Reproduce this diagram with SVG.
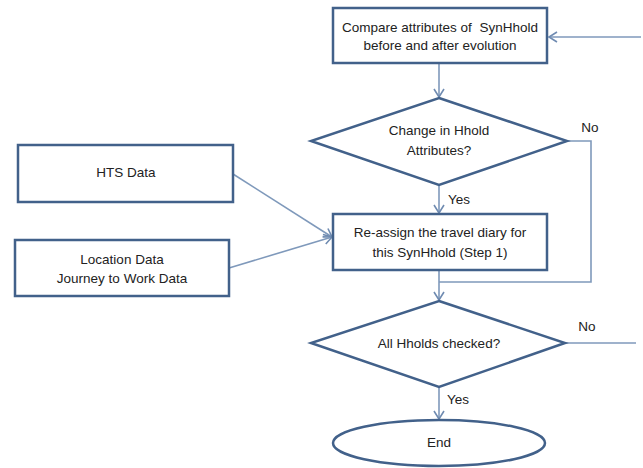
<svg xmlns="http://www.w3.org/2000/svg" width="643" height="468" viewBox="0 0 643 468">
<defs>
<marker id="arr" markerWidth="12" markerHeight="12" refX="9" refY="6" orient="auto" markerUnits="userSpaceOnUse">
<path d="M1,1 L9,6 L1,11" fill="none" stroke="#6f8bb1" stroke-width="1.6"/>
</marker>
</defs>
<style>
.box{fill:#fff;stroke:#42618a;stroke-width:2.5}
.con{fill:none;stroke:#7f99bb;stroke-width:1.6}
text{font-family:"Liberation Sans",Arial,sans-serif;font-size:13.5px;fill:#222;text-anchor:middle}
</style>
<rect width="643" height="468" fill="#fff"/>
<g id="connectors">
<line class="con" x1="641" y1="37" x2="549" y2="37" marker-end="url(#arr)"/>
<line class="con" x1="439" y1="63" x2="439" y2="97" marker-end="url(#arr)"/>
<line class="con" x1="439" y1="185" x2="439" y2="213" marker-end="url(#arr)"/>
<polyline class="con" points="567,141 591,141 591,282 439,282"/>
<line class="con" x1="439" y1="270" x2="439" y2="300" marker-end="url(#arr)"/>
<line class="con" x1="233" y1="174" x2="332" y2="237" marker-end="url(#arr)"/>
<line class="con" x1="229" y1="268" x2="332" y2="237" marker-end="url(#arr)"/>
<line class="con" x1="565" y1="343" x2="636" y2="343"/>
<line class="con" x1="439" y1="387" x2="439" y2="419" marker-end="url(#arr)"/>
<text x="590" y="132">No</text>
<text x="459" y="204">Yes</text>
<text x="587" y="331">No</text>
<text x="458" y="404">Yes</text>
</g>
<g id="compare">
<rect class="box" x="333" y="8" width="214" height="55"/>
<text x="440" y="32" xml:space="preserve">Compare attributes of  SynHhold</text>
<text x="440" y="50">before and after evolution</text>
</g>
<g id="change">
<polygon class="box" points="439,98 567,141 439,185 311,141"/>
<text x="439" y="135">Change in Hhold</text>
<text x="439" y="155">Attributes?</text>
</g>
<g id="hts">
<rect class="box" x="18" y="145" width="215" height="57"/>
<text x="126" y="177">HTS Data</text>
</g>
<g id="location">
<rect class="box" x="15" y="240" width="214" height="56"/>
<text x="122" y="264">Location Data</text>
<text x="122" y="283">Journey to Work Data</text>
</g>
<g id="reassign">
<rect class="box" x="333" y="214" width="214" height="56"/>
<text x="440" y="237">Re-assign the travel diary for</text>
<text x="440" y="257">this SynHhold (Step 1)</text>
</g>
<g id="allchecked">
<polygon class="box" points="439,301 565,343 439,387 311,343"/>
<text x="439" y="348">All Hholds checked?</text>
</g>
<g id="end">
<ellipse class="box" cx="439" cy="443" rx="106" ry="23"/>
<text x="439" y="447">End</text>
</g>
</svg>
